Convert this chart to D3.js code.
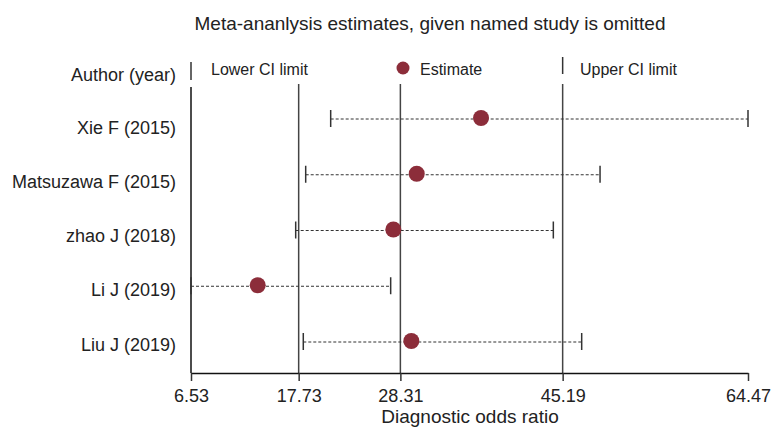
<!DOCTYPE html>
<html>
<head>
<meta charset="utf-8">
<script src="https://cdn.jsdelivr.net/npm/d3@7"></script>
<style>
	body { margin: 0; background: #fff; }
	text { font-family: "Liberation Sans", Arial, sans-serif; fill: #222; }
</style>
</head>
<body>
<script>
var authors = ["Xie F (2015)", "Matsuzawa F (2015)", "zhao J (2018)", "Li J (2019)", "Liu J (2019)"];
var estimates = [36.70, 30.01, 27.58, 13.47, 29.45];
var lowerCI = [21.06, 18.46, 17.42, 6.53, 18.21];
var upperCI = [64.47, 49.08, 44.22, 27.30, 47.17];
var tickValues = [6.53, 17.73, 28.31, 45.19, 64.47];
// overall lower limit, estimate, upper limit
var refLines = [17.73, 28.31, 45.19];

var width = 772,
	height = 428,
	axisY = 373,
	dotColor = "#8c2d3a";

var svg = d3.select("body").append("svg")
			.attr("width", width)
			.attr("height", height);

var x = d3.scaleLinear()
	.domain([d3.min(lowerCI), d3.max(upperCI)])
	.range([191, 748]);

var y = d3.scalePoint()
	.domain(authors)
	.range([118, 341]);

var yLabel = d3.scalePoint()
	.domain(authors)
	.range([127, 344]);

// title
svg.append("text")
	.attr("x", 430)
	.attr("y", 30)
	.attr("text-anchor", "middle")
	.style("font-size", "19px")
	.text("Meta-ananlysis estimates, given named study is omitted");

// header row
svg.append("text")
	.attr("x", 176)
	.attr("y", 80.5)
	.attr("text-anchor", "end")
	.style("font-size", "18px")
	.text("Author (year)");

svg.append("line")
	.attr("x1", x(tickValues[0])).attr("x2", x(tickValues[0]))
	.attr("y1", 62).attr("y2", 80)
	.style("stroke", "#333").style("stroke-width", 1.5);

svg.append("text")
	.attr("x", 211)
	.attr("y", 74.5)
	.style("font-size", "16px")
	.text("Lower CI limit");

svg.append("circle")
	.attr("cx", 403)
	.attr("cy", 68)
	.attr("r", 6.5)
	.style("fill", dotColor);

svg.append("text")
	.attr("x", 420)
	.attr("y", 74.5)
	.style("font-size", "16px")
	.text("Estimate");

svg.append("line")
	.attr("x1", x(refLines[2])).attr("x2", x(refLines[2]))
	.attr("y1", 57).attr("y2", 74)
	.style("stroke", "#333").style("stroke-width", 1.5);

svg.append("text")
	.attr("x", 580)
	.attr("y", 74.5)
	.style("font-size", "16px")
	.text("Upper CI limit");

// vertical lines
svg.append("line")
	.attr("x1", x(tickValues[0])).attr("x2", x(tickValues[0]))
	.attr("y1", 87).attr("y2", axisY)
	.style("stroke", "#111").style("stroke-width", 1.5);

svg.selectAll(".ref")
	.data(refLines)
	.enter()
	.append("line")
	.attr("class", "ref")
	.attr("x1", function(d){ return x(d); })
	.attr("x2", function(d){ return x(d); })
	.attr("y1", 84)
	.attr("y2", axisY)
	.style("stroke", "#444")
	.style("stroke-width", 1.5);

// axis
var axis = svg.append("g")
	.attr("transform", "translate(0," + axisY + ")")
	.call(d3.axisBottom(x)
		.tickValues(tickValues)
		.tickFormat(d3.format(".2f"))
		.tickSize(8)
		.tickSizeOuter(0)
		.tickPadding(8));

axis.select(".domain").style("stroke", "#111").style("stroke-width", 1.5);
axis.selectAll(".tick line").style("stroke", "#333").style("stroke-width", 1.5);
axis.selectAll(".tick text")
	.style("font-size", "18px")
	.style("font-family", "'Liberation Sans', Arial, sans-serif")
	.style("fill", "#222");

svg.append("text")
	.attr("x", 470)
	.attr("y", 423)
	.attr("text-anchor", "middle")
	.style("font-size", "19px")
	.text("Diagnostic odds ratio");

// rows
var rows = svg.selectAll(".row")
	.data(authors)
	.enter()
	.append("g")
	.attr("class", "row");

rows.append("text")
	.attr("x", 176)
	.attr("y", function(d){ return yLabel(d) + 6.5; })
	.attr("text-anchor", "end")
	.style("font-size", "18px")
	.text(function(d){ return d; });

rows.append("line")
	.attr("x1", function(d,i){ return x(lowerCI[i]); })
	.attr("x2", function(d,i){ return x(upperCI[i]); })
	.attr("y1", function(d){ return y(d) + 1; })
	.attr("y2", function(d){ return y(d) + 1; })
	.style("stroke", "#333")
	.style("stroke-width", 1)
	.style("stroke-dasharray", "3,2");

rows.append("line")
	.attr("x1", function(d,i){ return x(lowerCI[i]); })
	.attr("x2", function(d,i){ return x(lowerCI[i]); })
	.attr("y1", function(d){ return y(d) - 8; })
	.attr("y2", function(d){ return y(d) + 9; })
	.style("stroke", "#333")
	.style("stroke-width", 1.5);

rows.append("line")
	.attr("x1", function(d,i){ return x(upperCI[i]); })
	.attr("x2", function(d,i){ return x(upperCI[i]); })
	.attr("y1", function(d){ return y(d) - 8; })
	.attr("y2", function(d){ return y(d) + 9; })
	.style("stroke", "#333")
	.style("stroke-width", 1.5);

rows.append("circle")
	.attr("cx", function(d,i){ return x(estimates[i]); })
	.attr("cy", function(d){ return y(d); })
	.attr("r", 8)
	.style("fill", dotColor);
</script>
</body>
</html>
